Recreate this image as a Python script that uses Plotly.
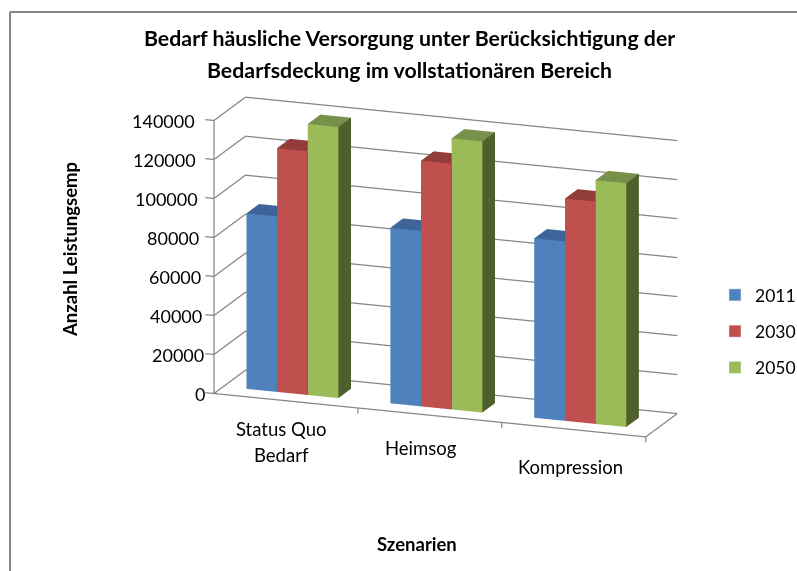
import numpy as np
import plotly.graph_objects as go

categories = ["Status Quo\nBedarf", "Heimsog", "Kompression"]
series_names = ["2011", "2030", "2050"]
values_2011 = [90000, 90000, 92000]
values_2030 = [125000, 126000, 114000]
values_2050 = [139000, 139000, 125000]
all_values = [values_2011, values_2030, values_2050]
value_ticks = [0, 20000, 40000, 60000, 80000, 100000, 120000, 140000]
front_colors = ["#4F81BD", "#C0504D", "#9BBB59"]
top_colors = ["#3D659A", "#933D3B", "#78914A"]
side_colors = ["#2F4D75", "#6F2E2C", "#505F2E"]
GRID = "#868686"
FONT = "Lato"
W, H = 797, 571
n = len(categories)
top = value_ticks[-1]

# Axis frame corners as seen in the reference, used to fit an orthographic view
pts_img=np.array([[216,390],[205,117],[252,365],[242,105],[671,417],[682,132],[652,445]],float)
pts_box=np.array([[-1,-1,-1],[-1,-1,1],[-1,1,-1],[-1,1,1],[1,1,-1],[1,1,1],[1,-1,-1]],float)
A=np.c_[np.ones(7),pts_box[:,0],pts_box[:,1]]
Ox,Xx,Yx=np.linalg.lstsq(A,pts_img[:,0],rcond=None)[0]
Oy,Xy,Yy,Zy=np.linalg.lstsq(np.c_[np.ones(7),pts_box],pts_img[:,1],rcond=None)[0]
s1=Xy/Xx; s2=-Yy/Yx
e=np.arctan(np.sqrt(s1*s2)); th=np.arctan(s1/np.tan(e))
d=3.0
S=1.25*(H/2)/(d*np.tan(np.pi/8))
ax=2*Xx/np.cos(th)/S; ay=2*Yx/np.sin(th)/S; az=-2*Zy/np.cos(e)/S
r=np.array([np.cos(th),np.sin(th),0]); dirn=np.array([np.sin(th)*np.cos(e),-np.cos(th)*np.cos(e),np.sin(e)])
u=np.cross(dirn,r)*-1
if u[2]<0:u=-u
c=-((Ox-W/2)/S)*r-((H/2-Oy)/S)*u

# Scene ranges are wider than the drawn frame so nothing is clipped at its edges
xr=[-0.2,n+0.2]; yr=[-0.2,1.2]; zr=[-0.1*top,1.1*top]
aspect=np.array([ax*(xr[1]-xr[0])/n, ay*(yr[1]-yr[0]), az*(zr[1]-zr[0])/top])
frame_mid=np.array([n/2,0.5,top/2]); range_mid=np.array([sum(xr)/2,sum(yr)/2,sum(zr)/2])
spans=np.array([xr[1]-xr[0],yr[1]-yr[0],zr[1]-zr[0]])
c=c+(frame_mid-range_mid)/spans*aspect
eye=c+d*dirn

fig=go.Figure()
def add_box(x0,x1,y0,y1,h,k):
    xs=[x0,x1,x1,x0,x0,x1,x1,x0];ys=[y0,y0,y1,y1,y0,y0,y1,y1];zs=[0,0,0,0,h,h,h,h]
    i=[0,0,4,4,1,1,0,0,3,3,2,2];j=[1,2,5,6,2,6,1,5,2,6,3,7];kk=[2,3,6,7,6,5,5,4,6,7,7,4]
    cols=[side_colors[k]]*2+[top_colors[k]]*2+[side_colors[k]]*2+[front_colors[k]]*2+[side_colors[k]]*2+[side_colors[k]]*2
    fig.add_trace(go.Mesh3d(x=xs,y=ys,z=zs,i=i,j=j,k=kk,facecolor=cols,flatshading=True,showlegend=False,hoverinfo="skip",
        lighting=dict(ambient=1,diffuse=0,specular=0,roughness=1,fresnel=0)))
for k,vals in enumerate(all_values):
    for cat,v in enumerate(vals):
        x0=cat+0.16+k*0.213
        add_box(x0,x0+0.213,0.3,0.7,v,k)
    fig.add_trace(go.Bar(x=[None],y=[None],name=series_names[k],marker_color=front_colors[k],legendgroup=series_names[k],xaxis="x",yaxis="y"))
def line3d(x,y,z):
    fig.add_trace(go.Scatter3d(x=x,y=y,z=z,mode="lines",line=dict(color=GRID,width=2.5),showlegend=False,hoverinfo="skip"))
line3d([0,n,n],[0,0,1],[0,0,0])
line3d([0,0],[0,0],[0,top])
sc=[]
for v in value_ticks:
    line3d([-0.06,0,0,n],[0,0,1,1],[v,v,v,v])
    sc.append(dict(x=0,y=0,z=v,text=str(v),showarrow=False,xanchor="right",xshift=-7-10*v/top,font=dict(family=FONT,size=18,color="#000")))
label_dx=[3,-2,4]
label_dy=[-29,-34,-38]
for cat,label in enumerate(categories):
    line3d([cat+1,cat+1],[0,0],[0,-top*0.02])
    for li,t in enumerate(label.split("\n")):
        sc.append(dict(x=cat+0.45,y=0,z=0,text=t,showarrow=False,xshift=label_dx[cat],yshift=label_dy[cat]-26*li,font=dict(family=FONT,size=18.5,color="#000")))
ax_off=dict(showticklabels=False,title="",zeroline=False,showbackground=False,showspikes=False,showgrid=False,showline=False,ticks="")
def txt(t,px,py,size,angle=0):
    return dict(text="<b>%s</b>"%t,x=px/W,y=1-py/H,xref="paper",yref="paper",xanchor="center",yanchor="middle",showarrow=False,textangle=angle,font=dict(family=FONT,size=size,color="#000"))
fx=10/W; fy=1-12/H
fig.update_layout(width=W,height=H,margin=dict(l=0,r=0,t=0,b=0,autoexpand=False),paper_bgcolor="white",plot_bgcolor="rgba(0,0,0,0)",
    showlegend=True,
    xaxis=dict(visible=False),yaxis=dict(visible=False),
    legend=dict(x=715/W,y=1-277/H,xanchor="left",yanchor="top",tracegroupgap=10.5,font=dict(family=FONT,size=17.5,color="#000"),bgcolor="rgba(0,0,0,0)"),
    scene=dict(domain=dict(x=[0,1],y=[0,1]),
      camera=dict(eye=dict(x=eye[0],y=eye[1],z=eye[2]),center=dict(x=c[0],y=c[1],z=c[2]),up=dict(x=0,y=0,z=1),projection=dict(type="orthographic")),
      aspectmode="manual",aspectratio=dict(x=aspect[0],y=aspect[1],z=aspect[2]),
      xaxis=dict(range=xr,**ax_off),
      yaxis=dict(range=yr,**ax_off),
      zaxis=dict(range=zr,**ax_off),
      annotations=sc),
    annotations=[txt("Bedarf häusliche Versorgung unter Berücksichtigung der",409,38,21.3),
                 txt("Bedarfsdeckung im vollstationären Bereich",409,70,21.3),
                 txt("Anzahl Leistungsemp",70,250,18.5,angle=-90),
                 txt("Szenarien",417,544,18.5)],
    shapes=[dict(type="line",xref="paper",yref="paper",x0=fx,x1=1,y0=fy,y1=fy,line=dict(color=GRID,width=2)),
            dict(type="line",xref="paper",yref="paper",x0=fx,x1=fx,y0=0,y1=fy,line=dict(color=GRID,width=2))])
fig.write_html("out.html",config=dict(displayModeBar=False),post_script="document.body.style.margin='0';document.body.style.overflow='hidden';")
